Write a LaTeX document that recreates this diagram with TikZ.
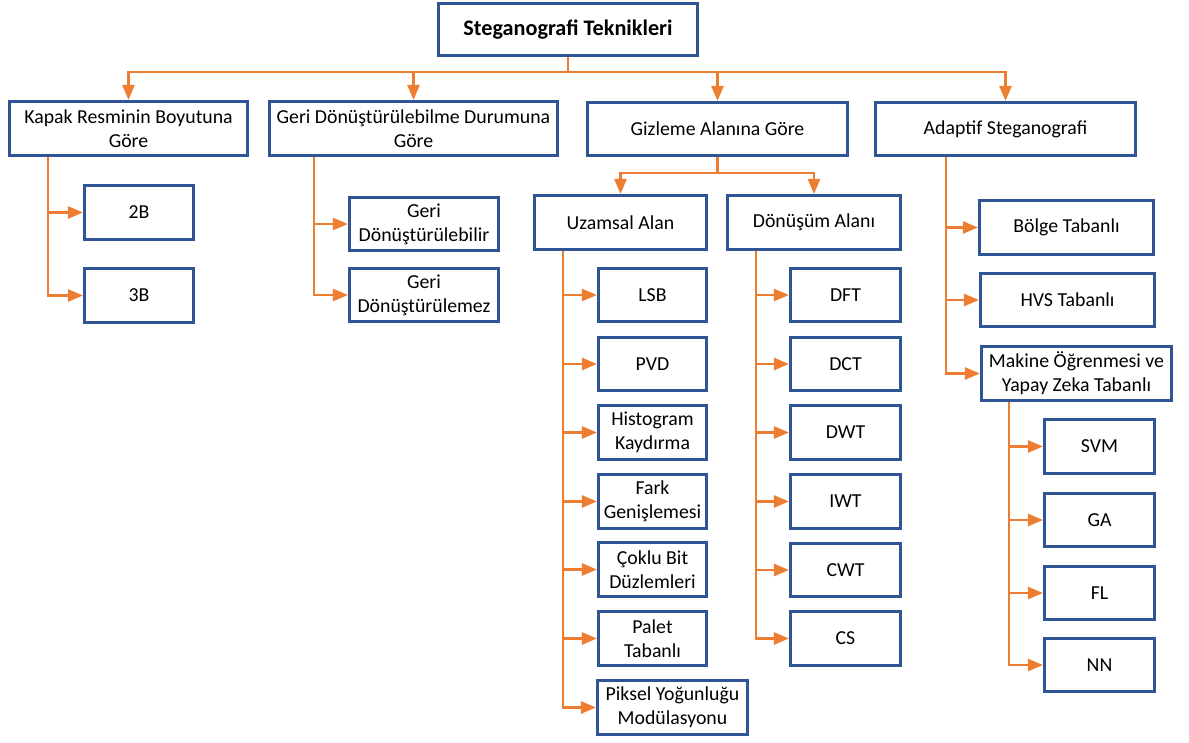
\documentclass[tikz,border=0pt]{standalone}
\usepackage{fontspec}
\setmainfont{Carlito}
\usetikzlibrary{arrows.meta}

\definecolor{boxblue}{HTML}{2F5597}
\definecolor{wireorange}{HTML}{ED7D31}

% box by its outer corners (left, top, right, bottom), in pixel-like units
\newcommand{\tbox}[6]{%
  \node[box, minimum width={#4-#2-2.5}, minimum height={#5-#3-2.5}]
    (#1) at ({(#2+#4)/2},{(#3+#5)/2}) {#6};}

\begin{document}
\begin{tikzpicture}[x=1pt, y=-1pt,
  box/.style={draw=boxblue, line width=2.6pt, fill=white, align=center,
    inner sep=1pt, font=\fontsize{19.8}{24}\selectfont},
  wire/.style={draw=wireorange, line width=2.5pt},
  arrow/.style={wire, -{Triangle[length=15pt, width=12pt]}},
]
\path[use as bounding box] (0,0) rectangle (1189,742);

% root and first level
\tbox{title}{437}{2}{699}{57}{\fontsize{22.2}{24}\selectfont\bfseries Steganografi Teknikleri}
\tbox{kapak}{8}{100}{249}{157}{Kapak Resminin Boyutuna\\Göre}
\tbox{geri}{268}{100}{559}{157}{Geri Dönüştürülebilme Durumuna\\Göre}
\tbox{gizleme}{586}{101}{849}{157}{Gizleme Alanına Göre}
\tbox{adaptif}{874}{101}{1137}{157}{Adaptif Steganografi}

% cover image size
\tbox{ikiB}{83}{184}{195}{241}{2B}
\tbox{ucB}{83}{267}{195}{324}{3B}

% reversibility
\tbox{gdb}{348}{196}{500}{252}{Geri\\Dönüştürülebilir}
\tbox{gdz}{348}{267}{500}{323}{Geri\\Dönüştürülemez}

% embedding domain
\tbox{uzamsal}{533}{194}{708}{251}{Uzamsal Alan}
\tbox{donusum}{726}{194}{902}{251}{Dönüşüm Alanı}

\tbox{lsb}{597}{267}{708}{323}{LSB}
\tbox{pvd}{597}{336}{708}{392}{PVD}
\tbox{hist}{597}{404}{708}{461}{Histogram\\Kaydırma}
\tbox{fark}{597}{473}{708}{530}{Fark\\Genişlemesi}
\tbox{coklu}{597}{541}{708}{598}{Çoklu Bit\\Düzlemleri}
\tbox{palet}{597}{610}{708}{667}{Palet\\Tabanlı}
\tbox{piksel}{596}{679}{749}{736}{Piksel Yoğunluğu\\Modülasyonu}

\tbox{dft}{789}{267}{902}{323}{DFT}
\tbox{dct}{789}{336}{902}{392}{DCT}
\tbox{dwt}{789}{404}{902}{461}{DWT}
\tbox{iwt}{789}{473}{902}{530}{IWT}
\tbox{cwt}{789}{542}{902}{598}{CWT}
\tbox{cs}{789}{610}{902}{667}{CS}

% adaptive
\tbox{bolge}{978}{199}{1155}{256}{Bölge Tabanlı}
\tbox{hvs}{979}{272}{1156}{328}{HVS Tabanlı}
\tbox{makine}{980}{345}{1173}{402}{Makine Öğrenmesi ve\\Yapay Zeka Tabanlı}

\tbox{svm}{1043}{418}{1156}{475}{SVM}
\tbox{ga}{1043}{492}{1156}{548}{GA}
\tbox{fl}{1043}{565}{1156}{621}{FL}
\tbox{nn}{1043}{637}{1156}{693}{NN}

% root bus
\draw[wire] (title.south) -- ++(0,15) coordinate (bus);
\foreach \t in {kapak, geri, gizleme, adaptif}
  \draw[arrow] (bus) -| (\t.north);

% domain bus
\draw[wire] (gizleme.south) -- ++(0,16) coordinate (gbus);
\foreach \t in {uzamsal, donusum}
  \draw[arrow] (gbus) -| (\t.north);

% spines with side arrows
\foreach \t in {ikiB, ucB}
  \draw[arrow] ([xshift=40pt]kapak.south west) |- (\t.west);
\foreach \t in {gdb, gdz}
  \draw[arrow] ([xshift=46pt]geri.south west) |- (\t.west);
\foreach \t in {lsb, pvd, hist, fark, coklu, palet, piksel}
  \draw[arrow] ([xshift=30pt]uzamsal.south west) |- (\t.west);
\foreach \t in {dft, dct, dwt, iwt, cwt, cs}
  \draw[arrow] ([xshift=30pt]donusum.south west) |- (\t.west);
\foreach \t in {bolge, hvs, makine}
  \draw[arrow] ([xshift=72pt]adaptif.south west) |- (\t.west);
\foreach \t in {svm, ga, fl, nn}
  \draw[arrow] ([xshift=29pt]makine.south west) |- (\t.west);
\end{tikzpicture}
\end{document}
